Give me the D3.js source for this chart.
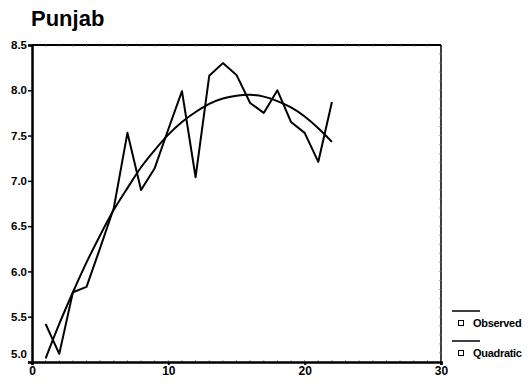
<!DOCTYPE html>
<html><head><meta charset="utf-8">
<script src="https://cdn.jsdelivr.net/npm/d3@7/dist/d3.min.js"></script>
<style>
html,body{margin:0;padding:0;background:#fff;}
svg{display:block;font-family:"Liberation Sans",Arial,sans-serif;}
</style></head>
<body>
<script>
const title = "Punjab";
const years = [1,2,3,4,5,6,7,8,9,10,11,12,13,14,15,16,17,18,19,20,21,22];
const observed = [5.42,5.09,5.77,5.83,6.26,6.70,7.53,6.90,7.14,7.57,7.99,7.04,8.16,8.30,8.17,7.86,7.75,8.00,7.65,7.53,7.21,7.87];
const quadratic = [5.04,5.42,5.77,6.10,6.40,6.68,6.92,7.15,7.34,7.51,7.65,7.76,7.85,7.91,7.94,7.95,7.93,7.88,7.81,7.71,7.58,7.43];
const xTicks = [0,10,20,30];
const yTicks = [5.0,5.5,6.0,6.5,7.0,7.5,8.0,8.5];
const legendLabels = ["Observed","Quadratic"];

const W = 532, H = 385;
const L = 32, R = 441, T = 45, B = 362;
const svg = d3.select("body").append("svg").attr("width",W).attr("height",H);

const x = d3.scaleLinear().domain([0,30]).range([L,R]);
const y = d3.scaleLinear().domain([5.0,8.5]).range([B,T]);

// title
svg.append("text").attr("x",31).attr("y",26).attr("font-size",22).attr("font-weight","bold")
  .text(title);

// frame (top and right)
svg.append("line").attr("x1",L).attr("x2",R).attr("y1",T).attr("y2",T).attr("stroke","#000").attr("stroke-width",2);
svg.append("line").attr("x1",R).attr("x2",R).attr("y1",T).attr("y2",B).attr("stroke","#000").attr("stroke-width",1.5);

// minor ticks
const g = svg.append("g");
d3.range(1,30).forEach(v=>{
  g.append("line").attr("x1",x(v)).attr("x2",x(v)).attr("y1",B).attr("y2",B-2).attr("stroke","#777").attr("stroke-width",0.7);
  g.append("line").attr("x1",x(v)).attr("x2",x(v)).attr("y1",T).attr("y2",T+2).attr("stroke","#777").attr("stroke-width",0.7);
});
d3.range(5.1,8.45,0.1).forEach(v=>{
  g.append("line").attr("x1",L).attr("x2",L+2).attr("y1",y(v)).attr("y2",y(v)).attr("stroke","#777").attr("stroke-width",0.7);
  g.append("line").attr("x1",R).attr("x2",R-2).attr("y1",y(v)).attr("y2",y(v)).attr("stroke","#777").attr("stroke-width",0.7);
});

// axes
const xAxis = d3.axisBottom(x).tickValues(xTicks).tickFormat(d3.format("d")).tickSize(3).tickPadding(1);
const ax = svg.append("g").attr("transform",`translate(0,${B})`).call(xAxis);
ax.select(".domain").attr("stroke-width",2.5);
ax.selectAll("line").attr("stroke-width",2);
ax.selectAll("text").attr("font-size",12).attr("font-weight","bold").attr("font-family","Liberation Sans, Arial, sans-serif").attr("fill","#000");

const yAxis = d3.axisLeft(y).tickValues(yTicks).tickFormat(d3.format(".1f")).tickSize(4).tickPadding(1);
const ay = svg.append("g").attr("transform",`translate(${L},0)`).call(yAxis);
ay.select(".domain").attr("stroke-width",2.5);
ay.selectAll("line").attr("stroke-width",1.5);
ay.selectAll("text").attr("font-size",11.5).attr("font-weight","bold").attr("font-family","Liberation Sans, Arial, sans-serif").attr("fill","#000")
  .attr("dy",(d)=> d===5.0 ? "-0.35em" : "0.32em");

// lines
const obsLine = d3.line().x((d,i)=>x(years[i])).y(d=>y(d));
svg.append("path").datum(observed).attr("d",obsLine).attr("fill","none").attr("stroke","#000").attr("stroke-width",2).attr("stroke-linejoin","round");
const quadLine = d3.line().x((d,i)=>x(years[i])).y(d=>y(d)).curve(d3.curveNatural);
svg.append("path").datum(quadratic).attr("d",quadLine).attr("fill","none").attr("stroke","#000").attr("stroke-width",2);

// legend
const lg = svg.append("g");
legendLabels.forEach((lab,i)=>{
  const yy = 311 + i*30;
  lg.append("line").attr("x1",452).attr("x2",480).attr("y1",yy).attr("y2",yy).attr("stroke","#000").attr("stroke-width",1.5);
  lg.append("rect").attr("x",458.5).attr("y",yy+9.5).attr("width",5).attr("height",5).attr("fill","#fff").attr("stroke","#000").attr("stroke-width",1);
  lg.append("text").attr("x",473).attr("y",yy+16).attr("font-size",11).attr("font-weight","bold").attr("letter-spacing","-0.3").text(lab);
});
</script>
</body></html>
